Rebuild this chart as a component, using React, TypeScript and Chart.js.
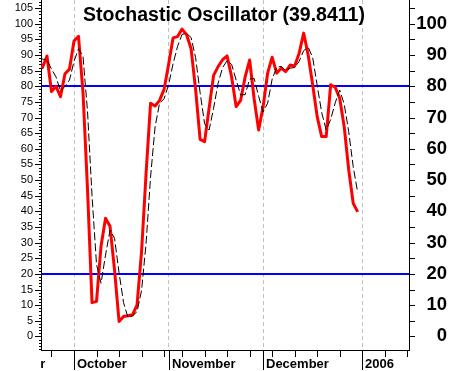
import React, { useEffect, useRef } from "react";
import { Chart, registerables } from "chart.js";

Chart.register(...registerables);

const FONT = '"Liberation Sans", Arial, sans-serif';

// trading-day index of the first value (Oct 3, 2005 = 0)
const firstDay = -8;

// %K (red)
const kValues = [
  89, 86, 89.7, 78.3, 80, 76.7, 84, 85.5,
  94.5, 96, 78, 47, 10.8, 11.2, 28.8, 37.8, 35.2, 21.3,
  4.8, 6.4, 6.6, 6.9, 10.1, 27, 52, 74.6, 73.7, 75.5,
  79, 87, 95.5, 95.9, 98.3, 96.5, 92, 79, 63, 62.3,
  73, 83.5, 86.3, 88.5, 89.7, 83, 73.5, 75.5, 83, 88.4,
  76, 66, 73.5, 84.2, 89.3, 84.2, 85.8, 84.7, 86.8, 86.5,
  90.6, 97, 90, 80.5, 70.3, 63.9, 63.9, 80.5, 79.7, 76.2,
  67.1, 53.3, 42.6, 39.8411,
];

// %D (black dashed)
const dValues = [
  89, 88.7, 88.4, 85.5, 83, 78.5, 80, 82,
  88, 92, 89.5, 72, 45, 23, 17, 26, 34, 31.4,
  20.4, 10.8, 6, 6.6, 7.9, 14.7, 29.7, 51, 67, 74.6,
  76, 80.5, 87.2, 92.8, 96.6, 96.9, 95.6, 89.2, 78, 68,
  66, 73, 81, 86, 88.2, 87, 82, 77.3, 77.3, 82.3,
  82.5, 76.8, 71.8, 74.6, 82.3, 86, 86.4, 85, 85.8, 86,
  88, 91.4, 92.5, 89.2, 80.3, 71.6, 66, 69.4, 74.7, 78.8,
  74.3, 65.5, 54.3, 46,
];

const levelLines = [80, 20];
const leftTickLabels = [0, 5, 10, 15, 20, 25, 30, 35, 40, 45, 50, 55, 60, 65, 70, 75, 80, 85, 90, 95, 100, 105];
const rightTickLabels = [0, 10, 20, 30, 40, 50, 60, 70, 80, 90, 100];
const monthStarts = [-22, 0, 21, 42, 64];
const monthLabels = ["September", "October", "November", "December", "2006"];
const weekTicks = [-5, 0, 5, 10, 15, 20, 24, 29, 34, 39, 44, 49, 54, 59, 69, 74];

const xMin = -7.33;
const xMax = 74.39;
const yMin = -4.35;
const yMax = 107.6;

const kPoints = kValues.map((v, i) => ({ x: firstDay + i, y: v }));
const dPoints = dValues.map((v, i) => ({ x: firstDay + i, y: v }));

const decorPlugin = {
  id: "decor",
  beforeDatasetsDraw(chart: any) {
    const { ctx, chartArea: a, scales } = chart;
    const y = scales.y;
    ctx.save();
    ctx.strokeStyle = "#0000ff";
    ctx.lineWidth = 2;
    for (const lv of levelLines) {
      const py = Math.round(y.getPixelForValue(lv));
      ctx.beginPath();
      ctx.moveTo(a.left, py);
      ctx.lineTo(a.right + 0.5, py);
      ctx.stroke();
    }
    ctx.restore();
  },
  afterDraw(chart: any) {
    const { ctx, chartArea: a, scales } = chart;
    const x = scales.x;
    const y = scales.y;
    ctx.save();
    ctx.strokeStyle = "#000";
    ctx.lineWidth = 1;
    ctx.beginPath();
    // left axis: minor every unit, major every 5
    for (let v = Math.ceil(yMin); v <= Math.floor(yMax); v++) {
      const py = Math.round(y.getPixelForValue(v)) + 0.5;
      const major = leftTickLabels.includes(v);
      ctx.moveTo(a.left - (major ? 6 : 2), py);
      ctx.lineTo(a.left + 0.5, py);
    }
    // right axis: every 5
    for (let v = 0; v <= 105; v += 5) {
      const py = Math.round(y.getPixelForValue(v)) + 0.5;
      ctx.moveTo(a.right, py);
      ctx.lineTo(a.right + 6, py);
    }
    // bottom axis weekly ticks
    for (const w of weekTicks) {
      if (w < xMin || w > xMax) continue;
      const px = Math.round(x.getPixelForValue(w)) + 0.5;
      ctx.moveTo(px, a.bottom);
      ctx.lineTo(px, a.bottom + 7);
    }
    for (const m of monthStarts) {
      if (m < xMin || m > xMax) continue;
      const px = Math.round(x.getPixelForValue(m)) + 0.5;
      ctx.moveTo(px, a.bottom);
      ctx.lineTo(px, a.bottom + 20);
    }
    ctx.stroke();

    // month labels, clipped to the axis strip
    ctx.save();
    ctx.beginPath();
    ctx.rect(a.left, a.bottom + 1, a.right - a.left + 40, 30);
    ctx.clip();
    ctx.fillStyle = "#000";
    ctx.font = "bold 13px " + FONT;
    ctx.textAlign = "left";
    ctx.textBaseline = "alphabetic";
    monthStarts.forEach((m, i) => {
      const px = Math.round(x.getPixelForValue(m));
      ctx.fillText(monthLabels[i], px + 3, a.bottom + 18);
    });
    ctx.restore();

    // title
    ctx.fillStyle = "#000";
    ctx.font = "bold 19.5px " + FONT;
    ctx.textAlign = "center";
    ctx.textBaseline = "alphabetic";
    const last = kValues[kValues.length - 1];
    ctx.fillText("Stochastic Oscillator (" + last.toFixed(4) + ")", (a.left + a.right) / 2 - 1, 21);
    ctx.restore();
  },
};

export default function App() {
  const ref = useRef<HTMLCanvasElement>(null);
  useEffect(() => {
    if (!ref.current) return;
    const chart = new Chart(ref.current, {
      type: "line",
      data: {
        datasets: [
          {
            label: "%D",
            data: dPoints,
            borderColor: "#000000",
            borderWidth: 1,
            borderDash: [8, 3],
            pointRadius: 0,
            fill: false,
            tension: 0,
            clip: 0,
          },
          {
            label: "%K",
            data: kPoints,
            borderColor: "#ff0000",
            borderWidth: 3,
            borderJoinStyle: "round",
            pointRadius: 0,
            fill: false,
            tension: 0,
            clip: 0,
          },
        ],
      },
      options: {
        animation: false,
        responsive: true,
        maintainAspectRatio: false,
        devicePixelRatio: 1,
        layout: { padding: { left: 0, right: 3, top: 0, bottom: 0 } },
        plugins: { legend: { display: false }, tooltip: { enabled: false }, title: { display: false } },
        scales: {
          x: {
            type: "linear",
            min: xMin,
            max: xMax,
            afterBuildTicks: (s: any) => {
              s.ticks = monthStarts.filter((m) => m >= xMin && m <= xMax).map((m) => ({ value: m }));
            },
            afterFit: (s: any) => {
              s.height = 21;
              s.paddingLeft = 0;
              s.paddingRight = 0;
            },
            grid: { display: true, drawTicks: false, drawOnChartArea: true, color: "#c0c0c0", lineWidth: 1 },
            border: { display: true, color: "#000000", width: 1, dash: [4, 3] },
            ticks: { display: false },
          },
          y: {
            type: "linear",
            position: "left",
            min: yMin,
            max: yMax,
            afterBuildTicks: (s: any) => {
              s.ticks = leftTickLabels.map((v) => ({ value: v }));
            },
            afterFit: (s: any) => {
              s.width = 41;
              s.paddingTop = 0;
              s.paddingBottom = 0;
            },
            grid: { display: false, drawTicks: false },
            border: { display: true, color: "#000000", width: 1 },
            ticks: {
              autoSkip: false,
              padding: 8,
              color: "#000000",
              font: { family: FONT, size: 11 },
              callback: (v: any) => String(v),
            },
          },
          y2: {
            type: "linear",
            position: "right",
            min: yMin,
            max: yMax,
            afterBuildTicks: (s: any) => {
              s.ticks = rightTickLabels.map((v) => ({ value: v }));
            },
            afterFit: (s: any) => {
              s.width = 38;
              s.paddingTop = 0;
              s.paddingBottom = 0;
            },
            grid: { display: false, drawTicks: false },
            border: { display: true, color: "#000000", width: 1 },
            ticks: {
              autoSkip: false,
              crossAlign: "far",
              padding: 6,
              color: "#000000",
              font: { family: FONT, size: 18.5, weight: "bold" },
              callback: (v: any) => String(v),
            },
          },
        },
      },
      plugins: [decorPlugin],
    } as any);
    return () => chart.destroy();
  }, []);
  return (
    <div style={{ position: "fixed", left: 0, top: 0, width: 450, height: 371, background: "#ffffff" }}>
      <canvas ref={ref} />
    </div>
  );
}
